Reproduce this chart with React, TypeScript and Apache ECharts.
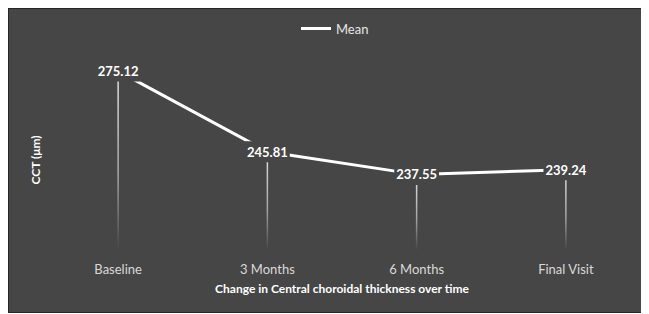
import React, { useEffect, useRef } from "react";
import * as echarts from "echarts";

const categories = ["Baseline", "3 Months", "6 Months", "Final Visit"];
const meanValues = [275.12, 245.81, 237.55, 239.24];
const seriesName = "Mean";
const yTitle = "CCT (μm)";
const xTitle = "Change in Central choroidal thickness over time";

const BG = "#464646";
const FONT = "Lato, 'Open Sans', sans-serif";

export default function App() {
  const ref = useRef<HTMLDivElement>(null);
  useEffect(() => {
    if (!ref.current) return;
    const chart = echarts.init(ref.current, undefined, { renderer: "svg" });
    chart.setOption({
      animation: false,
      backgroundColor: BG,
      textStyle: { fontFamily: FONT },
      legend: {
        data: [{ name: seriesName, icon: "rect" }],
        top: 8,
        left: 287,
        itemWidth: 30,
        itemHeight: 3,
        itemGap: 10,
        itemStyle: { color: "#ffffff" },
        textStyle: { color: "#e6e6e6", fontSize: 13, fontFamily: FONT },
      },
      grid: { left: 34.5, right: 7.5, top: 48.7, bottom: 61.9, containLabel: false },
      xAxis: {
        type: "category",
        data: categories,
        boundaryGap: true,
        axisLine: { show: false },
        axisTick: { show: false },
        axisLabel: { color: "#d9d9d9", fontSize: 13, margin: 12, fontFamily: FONT },
        splitLine: { show: false },
      },
      yAxis: {
        type: "value",
        min: 210,
        max: 280,
        show: false,
      },
      graphic: [
        {
          type: "text",
          x: 26,
          y: 151,
          rotation: Math.PI / 2,
          style: {
            text: yTitle,
            fill: "#ffffff",
            font: `bold 12px ${FONT}`,
            align: "center",
            verticalAlign: "middle",
          },
        },
        {
          type: "text",
          x: 333,
          y: 279,
          style: {
            text: xTitle,
            fill: "#ffffff",
            font: `bold 12px ${FONT}`,
            align: "center",
            verticalAlign: "middle",
          },
        },
      ],
      series: [
        {
          name: "drop",
          type: "bar",
          data: meanValues,
          barWidth: 1.5,
          z: 1,
          silent: true,
          itemStyle: {
            color: new echarts.graphic.LinearGradient(0, 0, 0, 1, [
              { offset: 0, color: "rgba(255,255,255,0.85)" },
              { offset: 0.6, color: "rgba(255,255,255,0.5)" },
              { offset: 1, color: "rgba(255,255,255,0)" },
            ]),
          },
        },
        {
          name: seriesName,
          type: "line",
          data: meanValues,
          z: 3,
          symbol: "circle",
          symbolSize: 1,
          itemStyle: { color: "#ffffff" },
          lineStyle: { color: "#ffffff", width: 3 },
          label: {
            show: true,
            position: "inside",
            color: "#ffffff",
            fontWeight: "bold",
            fontSize: 13,
            fontFamily: FONT,
            backgroundColor: BG,
            padding: [4, 2, 4, 2],
            formatter: (p: any) => p.value.toFixed(2),
          },
        },
      ],
    });
    return () => chart.dispose();
  }, []);
  return (
    <div
      style={{
        width: 641,
        height: 305,
        boxSizing: "border-box",
        border: "1px solid #262626",
        background: BG,
      }}
    >
      <div ref={ref} style={{ width: 639, height: 303 }} />
    </div>
  );
}
